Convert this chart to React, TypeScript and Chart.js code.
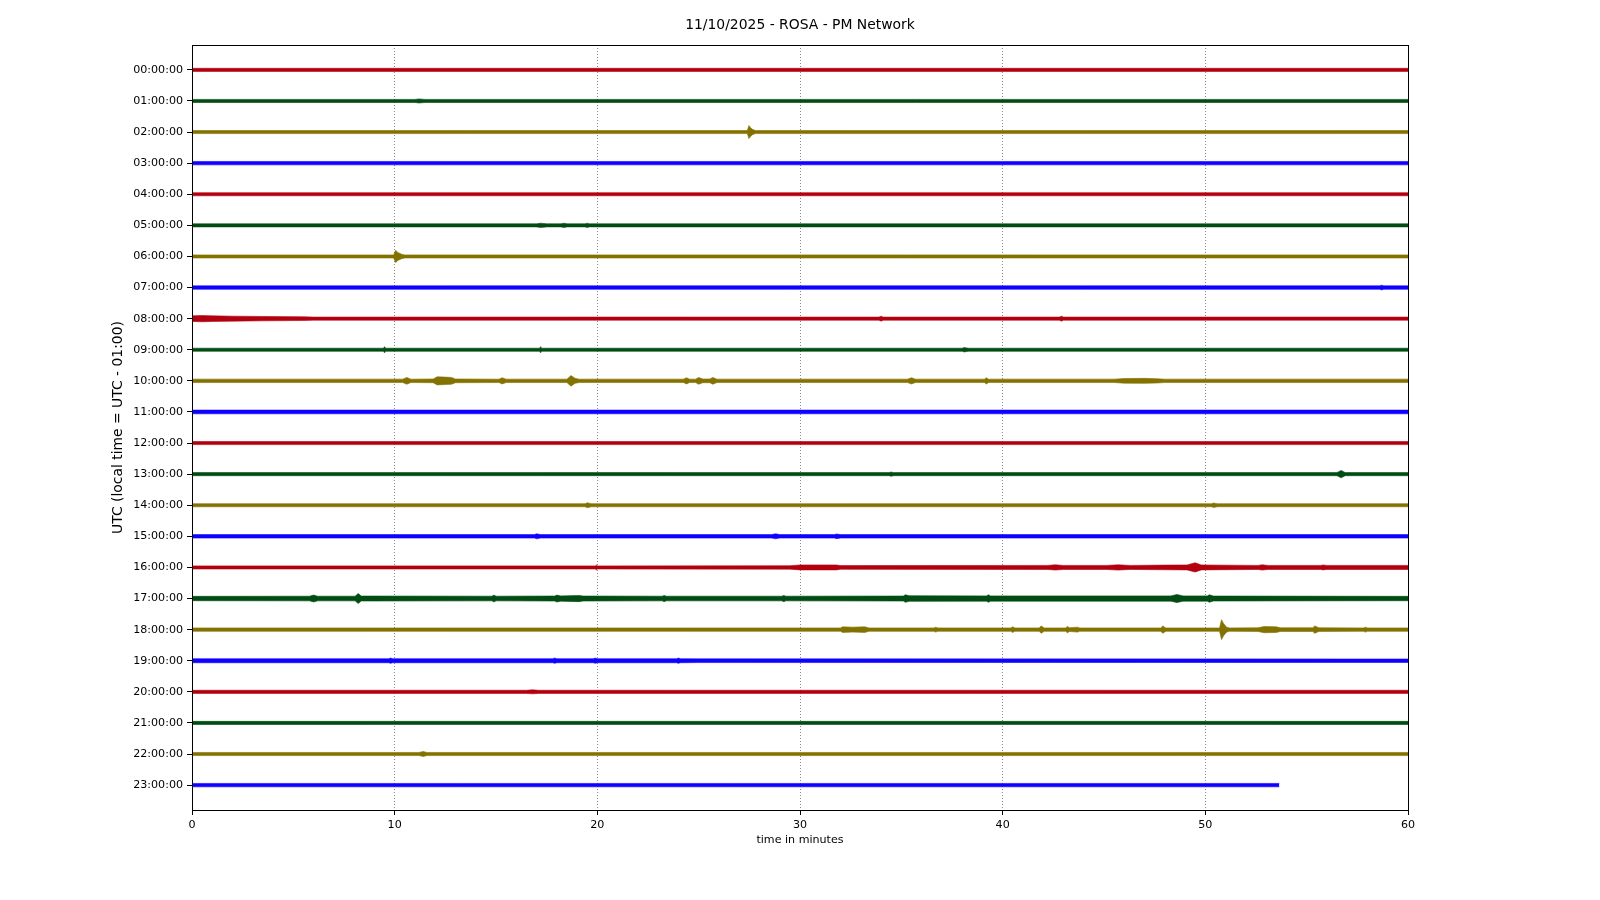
import React, { useEffect, useRef } from 'react';
import { Chart, registerables } from 'chart.js';

Chart.register(...registerables);

// Hour-row labels (one trace per hour)
const hourLabels = [
  '00:00:00', '01:00:00', '02:00:00', '03:00:00', '04:00:00', '05:00:00',
  '06:00:00', '07:00:00', '08:00:00', '09:00:00', '10:00:00', '11:00:00',
  '12:00:00', '13:00:00', '14:00:00', '15:00:00', '16:00:00', '17:00:00',
  '18:00:00', '19:00:00', '20:00:00', '21:00:00', '22:00:00', '23:00:00',
];
const minuteTicks = [0, 10, 20, 30, 40, 50, 60];

// Each trace: [minute, envelope half-amplitude (fraction of a row)]
const trace00: [number, number][] = [[0, 0.05], [60, 0.05]];
const trace01: [number, number][] = [[0, 0.05], [11, 0.05], [11.2, 0.065], [11.5, 0.05], [60, 0.05]];
const trace02: [number, number][] = [[0, 0.05], [27.4, 0.05], [27.48, 0.21], [27.55, 0.15], [27.65, 0.09], [27.8, 0.05], [60, 0.05]];
const trace03: [number, number][] = [[0, 0.055], [60, 0.055]];
const trace04: [number, number][] = [[0, 0.05], [60, 0.05]];
const trace05: [number, number][] = [[0, 0.05], [17, 0.05], [17.2, 0.07], [17.5, 0.05], [18.2, 0.05], [18.35, 0.07], [18.5, 0.05], [19.4, 0.05], [19.5, 0.07], [19.6, 0.05], [60, 0.05]];
const trace06: [number, number][] = [[0, 0.05], [9.95, 0.05], [10.05, 0.2], [10.15, 0.13], [10.35, 0.07], [10.5, 0.05], [60, 0.05]];
const trace07: [number, number][] = [[0, 0.055], [58.6, 0.055], [58.7, 0.075], [58.8, 0.055], [60, 0.055]];
const trace08: [number, number][] = [[0, 0.09], [0.5, 0.1], [1, 0.09], [2, 0.08], [3.5, 0.07], [5.5, 0.06], [6, 0.05], [33.9, 0.05], [34, 0.08], [34.1, 0.05], [42.8, 0.05], [42.9, 0.08], [43, 0.05], [60, 0.05]];
const trace09: [number, number][] = [[0, 0.05], [9.45, 0.05], [9.5, 0.1], [9.55, 0.05], [17.15, 0.05], [17.2, 0.1], [17.25, 0.05], [38, 0.05], [38.1, 0.07], [38.3, 0.05], [60, 0.05]];
const trace10: [number, number][] = [
  [0, 0.055], [10.4, 0.055], [10.6, 0.11], [10.8, 0.055], [11.9, 0.06], [12.1, 0.13], [12.5, 0.12], [12.8, 0.11], [13.0, 0.06],
  [15.15, 0.055], [15.3, 0.1], [15.5, 0.055], [18.5, 0.055], [18.7, 0.17], [18.9, 0.08], [19.1, 0.055],
  [24.25, 0.055], [24.4, 0.1], [24.55, 0.055], [24.85, 0.055], [25.0, 0.11], [25.2, 0.06], [25.55, 0.06], [25.7, 0.11], [25.9, 0.055],
  [35.3, 0.055], [35.5, 0.1], [35.7, 0.055], [39.1, 0.055], [39.2, 0.1], [39.3, 0.055],
  [45.5, 0.055], [46, 0.075], [47, 0.08], [47.6, 0.07], [48, 0.055], [60, 0.055],
];
const trace11: [number, number][] = [[0, 0.06], [60, 0.06]];
const trace12: [number, number][] = [[0, 0.05], [60, 0.05]];
const trace13: [number, number][] = [[0, 0.05], [34.4, 0.05], [34.5, 0.07], [34.6, 0.05], [56.5, 0.05], [56.7, 0.12], [56.9, 0.05], [60, 0.05]];
const trace14: [number, number][] = [[0, 0.05], [19.4, 0.05], [19.5, 0.08], [19.7, 0.05], [50.3, 0.05], [50.4, 0.07], [50.6, 0.05], [60, 0.05]];
const trace15: [number, number][] = [[0, 0.055], [16.9, 0.055], [17, 0.08], [17.2, 0.055], [28.6, 0.055], [28.8, 0.08], [29, 0.055], [31.7, 0.055], [31.8, 0.075], [32, 0.055], [60, 0.055]];
const trace16: [number, number][] = [
  [0, 0.05], [19.9, 0.05], [19.95, 0.08], [20, 0.05], [29.5, 0.055], [30, 0.08], [31.8, 0.08], [32, 0.06],
  [42.2, 0.065], [42.6, 0.085], [43, 0.065], [45.1, 0.065], [45.7, 0.085], [46.3, 0.065],
  [48, 0.075], [49.1, 0.08], [49.5, 0.15], [49.8, 0.08], [52.6, 0.065], [52.8, 0.085], [53.1, 0.065],
  [55.7, 0.065], [55.8, 0.08], [56, 0.065], [60, 0.065],
];
const trace17: [number, number][] = [
  [0, 0.07], [5.8, 0.075], [6, 0.11], [6.2, 0.075], [8.05, 0.075], [8.2, 0.16], [8.35, 0.08],
  [14.8, 0.075], [14.9, 0.11], [15, 0.075], [17.9, 0.08], [18, 0.11], [18.2, 0.085], [19.1, 0.1], [19.3, 0.08],
  [23.2, 0.075], [23.3, 0.1], [23.4, 0.075], [29.1, 0.075], [29.2, 0.1], [29.3, 0.075],
  [35.1, 0.08], [35.2, 0.12], [35.4, 0.09], [39.2, 0.085], [39.3, 0.12], [39.4, 0.085],
  [48.3, 0.085], [48.6, 0.13], [48.9, 0.085], [50.1, 0.085], [50.2, 0.12], [50.4, 0.08], [60, 0.07],
];
const trace18: [number, number][] = [
  [0, 0.055], [32, 0.055], [32.1, 0.09], [32.6, 0.08], [33.2, 0.09], [33.4, 0.055], [36.6, 0.055], [36.7, 0.08], [36.8, 0.055],
  [40.4, 0.055], [40.5, 0.09], [40.6, 0.055], [41.8, 0.055], [41.9, 0.12], [42.05, 0.055],
  [43.1, 0.055], [43.2, 0.1], [43.3, 0.06], [43.7, 0.08], [43.8, 0.055], [47.8, 0.055], [47.9, 0.12], [48.05, 0.055],
  [50.7, 0.055], [50.8, 0.32], [50.9, 0.2], [51.05, 0.08], [51.2, 0.055], [52.6, 0.06], [52.9, 0.1], [53.5, 0.09], [53.7, 0.06],
  [55.3, 0.06], [55.4, 0.12], [55.6, 0.06], [57.8, 0.055], [57.9, 0.08], [58, 0.055], [60, 0.055],
];
const trace19: [number, number][] = [[0, 0.065], [9.7, 0.065], [9.8, 0.085], [9.9, 0.065], [17.8, 0.065], [17.9, 0.085], [18, 0.065], [19.8, 0.065], [19.9, 0.085], [20, 0.065], [23.9, 0.065], [24, 0.085], [24.1, 0.065], [25, 0.06], [60, 0.055]];
const trace20: [number, number][] = [[0, 0.05], [16.5, 0.05], [16.8, 0.065], [17.1, 0.05], [60, 0.05]];
const trace21: [number, number][] = [[0, 0.05], [60, 0.05]];
const trace22: [number, number][] = [[0, 0.05], [11.2, 0.05], [11.4, 0.08], [11.6, 0.05], [60, 0.05]];
const trace23: [number, number][] = [[0, 0.055], [53.65, 0.055]];

const traces = [
  trace00, trace01, trace02, trace03, trace04, trace05, trace06, trace07,
  trace08, trace09, trace10, trace11, trace12, trace13, trace14, trace15,
  trace16, trace17, trace18, trace19, trace20, trace21, trace22, trace23,
];

const palette = ['#B2000F', '#004C12', '#847200', '#0E01FF'];
const FONT = "'DejaVu Sans', sans-serif";

const framePlugin = {
  id: 'frame',
  afterDraw(chart: any) {
    const { ctx, chartArea } = chart;
    const l = Math.round(chartArea.left) + 0.5;
    const t = Math.round(chartArea.top) + 0.5;
    const r = Math.round(chartArea.right) + 0.5;
    const b = Math.round(chartArea.bottom) + 0.5;
    ctx.save();
    ctx.strokeStyle = '#000';
    ctx.lineWidth = 1;
    ctx.strokeRect(l, t, r - l, b - t);
    ctx.restore();
  },
};

export default function App() {
  const ref = useRef<HTMLCanvasElement | null>(null);

  useEffect(() => {
    if (!ref.current) return;
    const datasets: any[] = [];
    traces.forEach((tr, i) => {
      const color = palette[i % 4];
      const upper = tr.map(([t, a]) => ({ x: t, y: i - a }));
      const lower = tr.map(([t, a]) => ({ x: t, y: i + a }));
      const common = {
        borderColor: color,
        backgroundColor: color,
        borderWidth: 0.6,
        pointRadius: 0,
        tension: 0,
      };
      datasets.push({ ...common, label: hourLabels[i] + ' +', data: upper, fill: false });
      datasets.push({ ...common, label: hourLabels[i] + ' -', data: lower, fill: '-1' });
    });

    const chart = new Chart(ref.current, {
      type: 'line',
      data: { datasets },
      plugins: [framePlugin],
      options: {
        animation: false,
        responsive: false,
        devicePixelRatio: 1,
        events: [],
        layout: { padding: { left: 0, right: 0, top: 0, bottom: 0 } },
        plugins: {
          legend: { display: false },
          tooltip: { enabled: false },
          title: {
            display: true,
            text: '11/10/2025 - ROSA - PM Network',
            color: '#000',
            font: { family: FONT, size: 13.9, weight: 'normal' },
            padding: { top: 17, bottom: 11.3 },
          },
        },
        scales: {
          x: {
            type: 'linear',
            min: 0,
            max: 60,
            afterBuildTicks: (scale: any) => {
              scale.ticks = minuteTicks.map((v) => ({ value: v }));
            },
            afterFit: (scale: any) => {
              scale.height = 90;
            },
            ticks: {
              color: '#000',
              font: { family: FONT, size: 11.1 },
              padding: 3,
              maxRotation: 0,
              autoSkip: false,
              callback: (v: any) => String(v),
            },
            grid: {
              color: (ctx: any) =>
                ctx.tick && (ctx.tick.value === 0 || ctx.tick.value === 60) ? 'rgba(0,0,0,0)' : 'rgba(0,0,0,0.6)',
              lineWidth: 0.8,
              tickColor: '#000',
              tickLength: 5,
              tickWidth: 1,
              tickBorderDash: [],
            },
            border: { display: false, dash: [1, 2] },
            title: {
              display: true,
              text: 'time in minutes',
              color: '#000',
              font: { family: FONT, size: 11.1 },
              padding: { top: 0, bottom: 53 },
            },
          },
          y: {
            type: 'linear',
            reverse: true,
            min: -0.8,
            max: 23.8,
            afterBuildTicks: (scale: any) => {
              scale.ticks = hourLabels.map((_, i) => ({ value: i }));
            },
            afterFit: (scale: any) => {
              scale.width = 192;
            },
            ticks: {
              color: '#000',
              font: { family: FONT, size: 11.1 },
              padding: 4,
              autoSkip: false,
              callback: (v: any) => hourLabels[Math.round(v)] ?? '',
            },
            grid: {
              drawOnChartArea: false,
              tickColor: '#000',
              tickLength: 5,
              tickWidth: 1,
            },
            border: { display: false },
            title: {
              display: true,
              text: 'UTC (local time = UTC - 01:00)',
              color: '#000',
              font: { family: FONT, size: 13.9 },
              padding: { top: 110, bottom: 0 },
            },
          },
          yRight: {
            type: 'linear',
            position: 'right',
            display: true,
            min: 0,
            max: 1,
            afterFit: (scale: any) => {
              scale.width = 192;
            },
            ticks: { display: false },
            grid: { display: false },
            border: { display: false },
          },
        },
      } as any,
    });
    return () => chart.destroy();
  }, []);

  return (
    <div style={{ position: 'fixed', left: 0, top: 0, width: 1600, height: 900, background: '#fff' }}>
      <canvas ref={ref} width={1600} height={900} style={{ width: 1600, height: 900, display: 'block' }} />
    </div>
  );
}
